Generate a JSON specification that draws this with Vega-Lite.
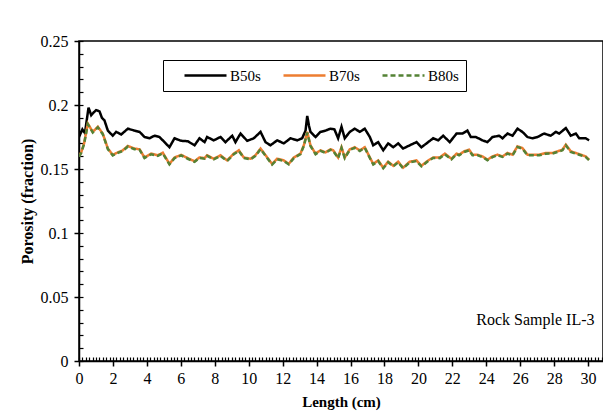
{
  "$schema": "https://vega.github.io/schema/vega-lite/v6.json",
  "width": 524,
  "height": 320,
  "autosize": {"type": "none"},
  "padding": {"left": 79, "top": 41, "right": 0, "bottom": 52},
  "background": "white",
  "config": {"view": {"stroke": "black", "strokeWidth": 1.5}, "font": "Liberation Serif"},
  "datasets": {
    "series": [
      {"s":"B50s","x":0.0,"y":0.175},{"s":"B50s","x":0.2,"y":0.181},{"s":"B50s","x":0.35,"y":0.178},{"s":"B50s","x":0.56,"y":0.198},{"s":"B50s","x":0.72,"y":0.192},{"s":"B50s","x":0.85,"y":0.194},{"s":"B50s","x":1.01,"y":0.196},{"s":"B50s","x":1.21,"y":0.195},{"s":"B50s","x":1.35,"y":0.190},{"s":"B50s","x":1.5,"y":0.188},{"s":"B50s","x":1.7,"y":0.180},{"s":"B50s","x":1.99,"y":0.176},{"s":"B50s","x":2.19,"y":0.179},{"s":"B50s","x":2.49,"y":0.177},{"s":"B50s","x":2.88,"y":0.1815},{"s":"B50s","x":3.27,"y":0.180},{"s":"B50s","x":3.57,"y":0.179},{"s":"B50s","x":3.86,"y":0.175},{"s":"B50s","x":4.15,"y":0.174},{"s":"B50s","x":4.45,"y":0.176},{"s":"B50s","x":4.74,"y":0.175},{"s":"B50s","x":5.04,"y":0.171},{"s":"B50s","x":5.33,"y":0.167},{"s":"B50s","x":5.63,"y":0.174},{"s":"B50s","x":6.02,"y":0.172},{"s":"B50s","x":6.41,"y":0.1717},{"s":"B50s","x":6.81,"y":0.1685},{"s":"B50s","x":7.1,"y":0.174},{"s":"B50s","x":7.4,"y":0.171},{"s":"B50s","x":7.55,"y":0.175},{"s":"B50s","x":7.94,"y":0.1724},{"s":"B50s","x":8.34,"y":0.175},{"s":"B50s","x":8.63,"y":0.171},{"s":"B50s","x":9.03,"y":0.176},{"s":"B50s","x":9.22,"y":0.171},{"s":"B50s","x":9.52,"y":0.1777},{"s":"B50s","x":9.91,"y":0.172},{"s":"B50s","x":10.3,"y":0.174},{"s":"B50s","x":10.7,"y":0.179},{"s":"B50s","x":10.99,"y":0.171},{"s":"B50s","x":11.28,"y":0.1685},{"s":"B50s","x":11.68,"y":0.1724},{"s":"B50s","x":12.07,"y":0.170},{"s":"B50s","x":12.46,"y":0.174},{"s":"B50s","x":12.86,"y":0.1724},{"s":"B50s","x":13.15,"y":0.174},{"s":"B50s","x":13.35,"y":0.180},{"s":"B50s","x":13.45,"y":0.1915},{"s":"B50s","x":13.55,"y":0.184},{"s":"B50s","x":13.64,"y":0.179},{"s":"B50s","x":13.94,"y":0.175},{"s":"B50s","x":14.23,"y":0.179},{"s":"B50s","x":14.53,"y":0.180},{"s":"B50s","x":14.82,"y":0.1815},{"s":"B50s","x":15.05,"y":0.181},{"s":"B50s","x":15.27,"y":0.174},{"s":"B50s","x":15.47,"y":0.183},{"s":"B50s","x":15.66,"y":0.174},{"s":"B50s","x":15.96,"y":0.179},{"s":"B50s","x":16.25,"y":0.1815},{"s":"B50s","x":16.55,"y":0.179},{"s":"B50s","x":16.84,"y":0.1815},{"s":"B50s","x":17.14,"y":0.175},{"s":"B50s","x":17.34,"y":0.1685},{"s":"B50s","x":17.63,"y":0.171},{"s":"B50s","x":17.93,"y":0.1646},{"s":"B50s","x":18.22,"y":0.170},{"s":"B50s","x":18.52,"y":0.167},{"s":"B50s","x":18.81,"y":0.170},{"s":"B50s","x":19.1,"y":0.166},{"s":"B50s","x":19.49,"y":0.1685},{"s":"B50s","x":19.89,"y":0.171},{"s":"B50s","x":20.18,"y":0.167},{"s":"B50s","x":20.58,"y":0.171},{"s":"B50s","x":20.87,"y":0.174},{"s":"B50s","x":21.17,"y":0.1724},{"s":"B50s","x":21.46,"y":0.176},{"s":"B50s","x":21.85,"y":0.171},{"s":"B50s","x":22.25,"y":0.1777},{"s":"B50s","x":22.6,"y":0.1777},{"s":"B50s","x":22.89,"y":0.180},{"s":"B50s","x":23.09,"y":0.175},{"s":"B50s","x":23.38,"y":0.175},{"s":"B50s","x":23.78,"y":0.1724},{"s":"B50s","x":24.07,"y":0.171},{"s":"B50s","x":24.37,"y":0.175},{"s":"B50s","x":24.76,"y":0.176},{"s":"B50s","x":24.96,"y":0.174},{"s":"B50s","x":25.25,"y":0.1777},{"s":"B50s","x":25.55,"y":0.176},{"s":"B50s","x":25.84,"y":0.1815},{"s":"B50s","x":26.13,"y":0.179},{"s":"B50s","x":26.43,"y":0.175},{"s":"B50s","x":26.72,"y":0.174},{"s":"B50s","x":27.02,"y":0.175},{"s":"B50s","x":27.41,"y":0.1777},{"s":"B50s","x":27.8,"y":0.176},{"s":"B50s","x":28.1,"y":0.179},{"s":"B50s","x":28.3,"y":0.1777},{"s":"B50s","x":28.69,"y":0.182},{"s":"B50s","x":28.98,"y":0.176},{"s":"B50s","x":29.28,"y":0.1777},{"s":"B50s","x":29.48,"y":0.174},{"s":"B50s","x":29.86,"y":0.174},{"s":"B50s","x":30.06,"y":0.1724},

      {"s":"B70s","x":0.0,"y":0.160},{"s":"B70s","x":0.13,"y":0.163},{"s":"B70s","x":0.3,"y":0.170},{"s":"B70s","x":0.52,"y":0.1855},{"s":"B70s","x":0.81,"y":0.179},{"s":"B70s","x":1.11,"y":0.183},{"s":"B70s","x":1.4,"y":0.1777},{"s":"B70s","x":1.7,"y":0.166},{"s":"B70s","x":1.99,"y":0.161},{"s":"B70s","x":2.29,"y":0.163},{"s":"B70s","x":2.58,"y":0.1646},{"s":"B70s","x":2.88,"y":0.168},{"s":"B70s","x":3.27,"y":0.166},{"s":"B70s","x":3.57,"y":0.1654},{"s":"B70s","x":3.86,"y":0.159},{"s":"B70s","x":4.25,"y":0.162},{"s":"B70s","x":4.64,"y":0.1607},{"s":"B70s","x":4.94,"y":0.1627},{"s":"B70s","x":5.33,"y":0.154},{"s":"B70s","x":5.63,"y":0.159},{"s":"B70s","x":6.02,"y":0.161},{"s":"B70s","x":6.41,"y":0.1585},{"s":"B70s","x":6.81,"y":0.156},{"s":"B70s","x":7.1,"y":0.159},{"s":"B70s","x":7.4,"y":0.1585},{"s":"B70s","x":7.55,"y":0.1607},{"s":"B70s","x":7.94,"y":0.158},{"s":"B70s","x":8.34,"y":0.1607},{"s":"B70s","x":8.73,"y":0.1567},{"s":"B70s","x":9.12,"y":0.162},{"s":"B70s","x":9.42,"y":0.1646},{"s":"B70s","x":9.71,"y":0.159},{"s":"B70s","x":10.11,"y":0.158},{"s":"B70s","x":10.4,"y":0.1607},{"s":"B70s","x":10.7,"y":0.166},{"s":"B70s","x":11.09,"y":0.159},{"s":"B70s","x":11.38,"y":0.154},{"s":"B70s","x":11.68,"y":0.158},{"s":"B70s","x":12.07,"y":0.1567},{"s":"B70s","x":12.36,"y":0.154},{"s":"B70s","x":12.66,"y":0.159},{"s":"B70s","x":13.05,"y":0.162},{"s":"B70s","x":13.25,"y":0.1685},{"s":"B70s","x":13.45,"y":0.179},{"s":"B70s","x":13.64,"y":0.1685},{"s":"B70s","x":13.94,"y":0.162},{"s":"B70s","x":14.23,"y":0.1646},{"s":"B70s","x":14.53,"y":0.163},{"s":"B70s","x":14.82,"y":0.1654},{"s":"B70s","x":14.98,"y":0.1646},{"s":"B70s","x":15.27,"y":0.159},{"s":"B70s","x":15.47,"y":0.167},{"s":"B70s","x":15.66,"y":0.159},{"s":"B70s","x":15.96,"y":0.1654},{"s":"B70s","x":16.25,"y":0.167},{"s":"B70s","x":16.55,"y":0.1646},{"s":"B70s","x":16.84,"y":0.167},{"s":"B70s","x":17.14,"y":0.159},{"s":"B70s","x":17.34,"y":0.154},{"s":"B70s","x":17.63,"y":0.1567},{"s":"B70s","x":17.93,"y":0.151},{"s":"B70s","x":18.22,"y":0.1557},{"s":"B70s","x":18.52,"y":0.1525},{"s":"B70s","x":18.81,"y":0.1557},{"s":"B70s","x":19.1,"y":0.151},{"s":"B70s","x":19.49,"y":0.1557},{"s":"B70s","x":19.89,"y":0.1567},{"s":"B70s","x":20.18,"y":0.1525},{"s":"B70s","x":20.58,"y":0.1567},{"s":"B70s","x":20.87,"y":0.159},{"s":"B70s","x":21.26,"y":0.159},{"s":"B70s","x":21.56,"y":0.162},{"s":"B70s","x":21.95,"y":0.158},{"s":"B70s","x":22.25,"y":0.162},{"s":"B70s","x":22.4,"y":0.1612},{"s":"B70s","x":22.7,"y":0.1638},{"s":"B70s","x":22.99,"y":0.1651},{"s":"B70s","x":23.19,"y":0.1612},{"s":"B70s","x":23.48,"y":0.1612},{"s":"B70s","x":23.78,"y":0.1598},{"s":"B70s","x":24.07,"y":0.1573},{"s":"B70s","x":24.37,"y":0.1598},{"s":"B70s","x":24.66,"y":0.1612},{"s":"B70s","x":24.96,"y":0.1598},{"s":"B70s","x":25.25,"y":0.1625},{"s":"B70s","x":25.55,"y":0.1612},{"s":"B70s","x":25.84,"y":0.1677},{"s":"B70s","x":26.13,"y":0.1664},{"s":"B70s","x":26.43,"y":0.1612},{"s":"B70s","x":26.72,"y":0.1612},{"s":"B70s","x":27.12,"y":0.1612},{"s":"B70s","x":27.51,"y":0.1625},{"s":"B70s","x":27.9,"y":0.1625},{"s":"B70s","x":28.2,"y":0.1638},{"s":"B70s","x":28.49,"y":0.1651},{"s":"B70s","x":28.69,"y":0.169},{"s":"B70s","x":28.98,"y":0.1638},{"s":"B70s","x":29.28,"y":0.1625},{"s":"B70s","x":29.57,"y":0.1612},{"s":"B70s","x":29.86,"y":0.1598},{"s":"B70s","x":30.06,"y":0.1573},

      {"s":"B80s","x":0.0,"y":0.1596},{"s":"B80s","x":0.13,"y":0.1626},{"s":"B80s","x":0.3,"y":0.1695},{"s":"B80s","x":0.52,"y":0.185},{"s":"B80s","x":0.81,"y":0.1786},{"s":"B80s","x":1.11,"y":0.1825},{"s":"B80s","x":1.4,"y":0.1772},{"s":"B80s","x":1.7,"y":0.1656},{"s":"B80s","x":1.99,"y":0.1606},{"s":"B80s","x":2.29,"y":0.1626},{"s":"B80s","x":2.58,"y":0.1641},{"s":"B80s","x":2.88,"y":0.1676},{"s":"B80s","x":3.27,"y":0.1655},{"s":"B80s","x":3.57,"y":0.165},{"s":"B80s","x":3.86,"y":0.1586},{"s":"B80s","x":4.25,"y":0.1615},{"s":"B80s","x":4.64,"y":0.1603},{"s":"B80s","x":4.94,"y":0.1622},{"s":"B80s","x":5.33,"y":0.1536},{"s":"B80s","x":5.63,"y":0.1585},{"s":"B80s","x":6.02,"y":0.1606},{"s":"B80s","x":6.41,"y":0.158},{"s":"B80s","x":6.81,"y":0.1556},{"s":"B80s","x":7.1,"y":0.1586},{"s":"B80s","x":7.4,"y":0.158},{"s":"B80s","x":7.55,"y":0.1603},{"s":"B80s","x":7.94,"y":0.1576},{"s":"B80s","x":8.34,"y":0.1602},{"s":"B80s","x":8.73,"y":0.1563},{"s":"B80s","x":9.12,"y":0.1615},{"s":"B80s","x":9.42,"y":0.1641},{"s":"B80s","x":9.71,"y":0.1586},{"s":"B80s","x":10.11,"y":0.1575},{"s":"B80s","x":10.4,"y":0.1603},{"s":"B80s","x":10.7,"y":0.1655},{"s":"B80s","x":11.09,"y":0.1586},{"s":"B80s","x":11.38,"y":0.1535},{"s":"B80s","x":11.68,"y":0.1576},{"s":"B80s","x":12.07,"y":0.1562},{"s":"B80s","x":12.36,"y":0.1536},{"s":"B80s","x":12.66,"y":0.1585},{"s":"B80s","x":13.05,"y":0.1616},{"s":"B80s","x":13.25,"y":0.168},{"s":"B80s","x":13.45,"y":0.1785},{"s":"B80s","x":13.64,"y":0.168},{"s":"B80s","x":13.94,"y":0.1616},{"s":"B80s","x":14.23,"y":0.1641},{"s":"B80s","x":14.53,"y":0.1626},{"s":"B80s","x":14.82,"y":0.165},{"s":"B80s","x":14.98,"y":0.1641},{"s":"B80s","x":15.27,"y":0.1585},{"s":"B80s","x":15.47,"y":0.1665},{"s":"B80s","x":15.66,"y":0.1585},{"s":"B80s","x":15.96,"y":0.165},{"s":"B80s","x":16.25,"y":0.1665},{"s":"B80s","x":16.55,"y":0.1641},{"s":"B80s","x":16.84,"y":0.1666},{"s":"B80s","x":17.14,"y":0.1586},{"s":"B80s","x":17.34,"y":0.1535},{"s":"B80s","x":17.63,"y":0.1562},{"s":"B80s","x":17.93,"y":0.1506},{"s":"B80s","x":18.22,"y":0.1552},{"s":"B80s","x":18.52,"y":0.1521},{"s":"B80s","x":18.81,"y":0.1552},{"s":"B80s","x":19.1,"y":0.1506},{"s":"B80s","x":19.49,"y":0.1552},{"s":"B80s","x":19.89,"y":0.1562},{"s":"B80s","x":20.18,"y":0.1521},{"s":"B80s","x":20.58,"y":0.1562},{"s":"B80s","x":20.87,"y":0.1586},{"s":"B80s","x":21.26,"y":0.1585},{"s":"B80s","x":21.56,"y":0.1615},{"s":"B80s","x":21.95,"y":0.1576},{"s":"B80s","x":22.25,"y":0.1616},{"s":"B80s","x":22.4,"y":0.1607},{"s":"B80s","x":22.7,"y":0.1633},{"s":"B80s","x":22.99,"y":0.1646},{"s":"B80s","x":23.19,"y":0.1607},{"s":"B80s","x":23.48,"y":0.1608},{"s":"B80s","x":23.78,"y":0.1593},{"s":"B80s","x":24.07,"y":0.1569},{"s":"B80s","x":24.37,"y":0.1593},{"s":"B80s","x":24.66,"y":0.1607},{"s":"B80s","x":24.96,"y":0.1594},{"s":"B80s","x":25.25,"y":0.162},{"s":"B80s","x":25.55,"y":0.1607},{"s":"B80s","x":25.84,"y":0.1672},{"s":"B80s","x":26.13,"y":0.1659},{"s":"B80s","x":26.43,"y":0.1607},{"s":"B80s","x":26.72,"y":0.1608},{"s":"B80s","x":27.12,"y":0.1607},{"s":"B80s","x":27.51,"y":0.162},{"s":"B80s","x":27.9,"y":0.1621},{"s":"B80s","x":28.2,"y":0.1633},{"s":"B80s","x":28.49,"y":0.1646},{"s":"B80s","x":28.69,"y":0.1685},{"s":"B80s","x":28.98,"y":0.1633},{"s":"B80s","x":29.28,"y":0.162},{"s":"B80s","x":29.57,"y":0.1607},{"s":"B80s","x":29.86,"y":0.1594},{"s":"B80s","x":30.06,"y":0.1568}
    ],
    "note": [{"x": 30.38, "y": 0.0318, "t": "Rock Sample IL-3"}]
  },
  "resolve": {"axis": {"x": "independent", "y": "independent"}},
  "layer": [
    {
      "data": {"name": "series"},
      "mark": {"type": "line", "strokeWidth": 2.5, "clip": true},
      "encoding": {
        "x": {
          "field": "x", "type": "quantitative",
          "scale": {"domain": [0, 30.88], "nice": false, "zero": false},
          "axis": {
            "orient": "bottom",
            "title": "Length (cm)", "titleFont": "Liberation Serif", "titleFontSize": 15, "titleFontWeight": "bold", "titleColor": "black", "titlePadding": 8,
            "grid": false,
            "values": [0,2,4,6,8,10,12,14,16,18,20,22,24,26,28,30],
            "format": "d",
            "labelFont": "Liberation Serif", "labelFontSize": 16, "labelColor": "black", "labelOverlap": false, "labelFlush": false, "labelPadding": 4,
            "domainColor": "black", "domainWidth": 1.5, "tickColor": "black", "tickWidth": 1.5, "tickSize": 5
          }
        },
        "y": {
          "field": "y", "type": "quantitative",
          "scale": {"domain": [0, 0.25], "nice": false},
          "axis": {
            "orient": "left",
            "title": "Porosity (fraction)", "titleFont": "Liberation Serif", "titleFontSize": 16, "titleFontWeight": "bold", "titleColor": "black", "titlePadding": 5,
            "grid": false,
            "values": [0,0.05,0.1,0.15,0.2,0.25],
            "format": "~g",
            "labelFont": "Liberation Serif", "labelFontSize": 16, "labelColor": "black", "labelOverlap": false, "labelFlush": false, "labelPadding": 6,
            "domainColor": "black", "domainWidth": 1.5, "tickColor": "black", "tickWidth": 1.5, "tickSize": 5
          }
        },
        "color": {
          "field": "s", "type": "nominal",
          "scale": {"domain": ["B50s", "B70s", "B80s"], "range": ["#000000", "#ED7D31", "#548235"]},
          "legend": {
            "title": null, "orient": "none", "legendX": 84, "legendY": 19, "direction": "horizontal",
            "strokeColor": "black", "padding": 7, "symbolType": "stroke", "symbolSize": 1764, "clipHeight": 17, "symbolStrokeWidth": 2.5, "symbolOffset": 13,
            "labelFont": "Liberation Serif", "labelFontSize": 15, "labelColor": "black", "labelOffset": 2, "columnPadding": 8
          }
        },
        "strokeDash": {
          "field": "s", "type": "nominal",
          "scale": {"domain": ["B50s", "B70s", "B80s"], "range": [[1, 0], [1, 0], [5, 3]]},
          "legend": {
            "title": null, "orient": "none", "legendX": 84, "legendY": 19, "direction": "horizontal",
            "strokeColor": "black", "padding": 7, "symbolType": "stroke", "symbolSize": 1764, "clipHeight": 17, "symbolStrokeWidth": 2.5, "symbolOffset": 13,
            "labelFont": "Liberation Serif", "labelFontSize": 15, "labelColor": "black", "labelOffset": 2, "columnPadding": 8
          }
        }
      }
    },
    {
      "data": {"name": "note"},
      "mark": {"type": "text", "align": "right", "baseline": "middle", "fontSize": 16, "font": "Liberation Serif", "color": "black"},
      "encoding": {
        "x": {
          "field": "x", "type": "quantitative",
          "axis": {
            "orient": "bottom", "title": null, "labels": false, "domain": false, "grid": false,
            "offset": -4, "tickSize": 4, "tickColor": "black", "tickWidth": 1.2,
            "values": [0,0.2,0.4,0.6,0.8,1,1.2,1.4,1.6,1.8,2,2.2,2.4,2.6,2.8,3,3.2,3.4,3.6,3.8,4,4.2,4.4,4.6,4.8,5,5.2,5.4,5.6,5.8,6,6.2,6.4,6.6,6.8,7,7.2,7.4,7.6,7.8,8,8.2,8.4,8.6,8.8,9,9.2,9.4,9.6,9.8,10,10.2,10.4,10.6,10.8,11,11.2,11.4,11.6,11.8,12,12.2,12.4,12.6,12.8,13,13.2,13.4,13.6,13.8,14,14.2,14.4,14.6,14.8,15,15.2,15.4,15.6,15.8,16,16.2,16.4,16.6,16.8,17,17.2,17.4,17.6,17.8,18,18.2,18.4,18.6,18.8,19,19.2,19.4,19.6,19.8,20,20.2,20.4,20.6,20.8,21,21.2,21.4,21.6,21.8,22,22.2,22.4,22.6,22.8,23,23.2,23.4,23.6,23.8,24,24.2,24.4,24.6,24.8,25,25.2,25.4,25.6,25.8,26,26.2,26.4,26.6,26.8,27,27.2,27.4,27.6,27.8,28,28.2,28.4,28.6,28.8,29,29.2,29.4,29.6,29.8,30,30.2,30.4,30.6,30.8]
          }
        },
        "y": {
          "field": "y", "type": "quantitative",
          "axis": {
            "orient": "left", "title": null, "labels": false, "domain": false, "grid": false,
            "offset": -4, "tickSize": 4, "tickColor": "black", "tickWidth": 1.2,
            "values": [0,0.01,0.02,0.03,0.04,0.05,0.06,0.07,0.08,0.09,0.1,0.11,0.12,0.13,0.14,0.15,0.16,0.17,0.18,0.19,0.2,0.21,0.22,0.23,0.24,0.25]
          }
        },
        "text": {"field": "t"}
      }
    }
  ]
}
